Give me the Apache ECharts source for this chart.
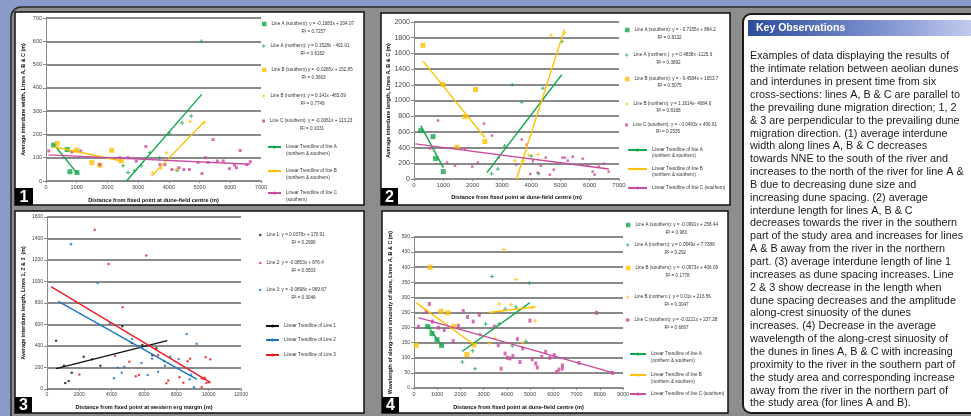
<!DOCTYPE html>
<html>
<head>
<meta charset="utf-8">
<script src="https://cdn.jsdelivr.net/npm/echarts/dist/echarts.min.js"></script>
<style>
  html, body { margin: 0; padding: 0; background: #8b9bc9; }
  #chart { width: 971px; height: 416px; }
</style>
</head>
<body>
<div id="chart"></div>
<script>
// ---- panel 1: interdune width ----
const p1ASouth = [[250, 154], [690, 135], [780, 40], [1010, 36]]
const p1ANorth = [[2510, 65], [2670, 37], [2890, 45], [3100, 66], [3380, 122], [3700, 100], [4010, 205], [4270, 45], [4430, 250], [4730, 279], [5060, 600]]
const p1BSouth = [[360, 161], [990, 132], [1490, 79], [1750, 68], [2140, 132], [2450, 86]]
const p1BNorth = [[3460, 34], [3750, 55], [3920, 121], [4250, 50], [4690, 256], [5150, 251]]
const p1C = [[90, 129], [840, 125], [1130, 129], [1750, 70], [2400, 100], [2670, 100], [2940, 85], [3250, 148], [3710, 70], [3870, 70], [4100, 49], [4330, 57], [4490, 49], [4670, 49], [4950, 80], [5080, 32], [5190, 100], [5280, 80], [5440, 178], [5580, 86], [5770, 86], [5970, 53], [6140, 68], [6200, 57], [6320, 131], [6530, 70], [6650, 83]]
const p1TrendASouth = [[250, 158], [1010, 34]]
const p1TrendANorth = [[2620, 0], [5070, 372]]
const p1TrendBSouth = [[250, 147], [2460, 86]]
const p1TrendBNorth = [[3440, 22], [5170, 257]]
const p1TrendC = [[80, 112], [6650, 72]]
const p1Names = ['Line A (southern): y = -0.1683x + 204.07', 'Line A (northern): y = 0.1528x - 401.01', 'Line B (southern) y = -0.0285x + 152.85', 'Line B (northern): y = 0.141x -465.09', 'Line C (southern): y = -0.0061x + 113.23']
const p1R2 = ['0.7257', '0.6162', '0.3663', '0.7749', '0.1031']
const p1Trends = ['Linear Trendline of line A\n(northern & southern)', 'Linear Trendline of line B\n(northern & southern)', 'Linear Trendline of line C\n(southern)']

// ---- panel 2: interdune length ----
const p2ASouth = [[230, 617], [650, 540], [740, 260], [1000, 94]]
const p2ANorth = [[2650, 68], [2860, 128], [3090, 421], [3350, 1200], [3680, 979], [4000, 294], [4260, 68], [4400, 1157], [5050, 1753]]
const p2BSouth = [[310, 1702], [990, 1204], [1470, 404], [1740, 795], [2100, 1140], [2420, 477]]
const p2BNorth = [[3440, 234], [3750, 234], [3910, 306], [4230, 311], [4680, 1830], [5150, 1860]]
const p2C = [[545, 389], [820, 745], [1125, 209], [1400, 170], [1740, 383], [1990, 157], [2180, 209], [2390, 706], [2660, 553], [2890, 272], [3490, 183], [3680, 502], [3850, 438], [3970, 64], [4060, 226], [4220, 80], [4330, 170], [4500, 272], [4640, 55], [4770, 119], [5070, 272], [5150, 272], [5250, 234], [5420, 285], [5760, 260], [5930, 174], [6100, 94], [6170, 55], [6310, 157], [6480, 196], [6650, 94]]
const p2TrendASouth = [[230, 680], [1000, 145]]
const p2TrendANorth = [[2490, 81], [5045, 1328]]
const p2TrendBSouth = [[307, 1502], [2420, 528]]
const p2TrendBNorth = [[3500, 0], [5140, 1906]]
const p2TrendC = [[45, 447], [6650, 128]]
const p2Names = ['Line A (southern): y = - 0.7155x + 864.2', 'Line A (northern ): y = 0.4838x -1125.6', 'Line B (southern): y = - 0.4584x + 1653.7', 'Line B (northern): y = 1.1614x- 4084.6', 'Line C (southern): y = - 0.0493x + 456.61']
const p2R2 = ['0.8132', '0.3892', '0.5075', '0.8168', '0.2535']
const p2Trends = ['Linear Trendline of line A\n(northern & southern)', 'Linear Trendline of line B\n(northern & southern)', 'Linear Trendline of line C (southern)']

// ---- panel 3: lines 1, 2 & 3 ----
const p3L1 = [[560, 450], [1050, 217], [1130, 56], [1340, 74], [1530, 152], [2270, 301], [2800, 276], [3300, 217], [4660, 583], [5240, 428], [5900, 409], [6520, 313], [6760, 378]]
const p3L2 = [[2000, 136], [2950, 1482], [3810, 1163], [4210, 310], [4680, 760], [5090, 254], [5490, 118], [5690, 130], [6140, 1243], [6870, 313], [7380, 53], [7500, 78], [8190, 109], [8430, 59], [8700, 257], [8850, 282], [9570, 99], [9690, 93], [9770, 105], [9860, 56], [10000, 62], [9570, 19], [9810, 295], [10100, 276]]
const p3L3 = [[1485, 1346], [3130, 986], [3900, 611], [5260, 465], [4370, 198], [4620, 152], [4780, 208], [4140, 99], [5840, 242], [6230, 130], [6500, 282], [6870, 161], [7240, 260], [7630, 301], [7300, 217], [8140, 279], [8640, 512], [8820, 90], [8910, 133], [9090, 16], [9260, 422]]
const p3Trend1 = [[560, 189], [7440, 450]]
const p3TrendBlue = [[700, 816], [9280, 90]]
const p3TrendRed = [[250, 952], [10120, 59]]
const p3Names = ['Line 1: y = 0.0378x + 170.91', 'Line 2: y = -0.0853x + 876.4', 'Line 3: y = -0.0898x + 969.67']
const p3R2 = ['0.2999', '0.3503', '0.3046']
const p3Trends = ['Linear Trendline of Line 1', 'Linear Trendline of Line 2', 'Linear Trendline of Line 3']

// ---- panel 4: along-crest sinuosity wavelength ----
const p4ASouth = [[590, 204], [775, 180], [990, 160], [1190, 141]]
const p4ANorth = [[2080, 86], [2525, 123], [2626, 64], [2840, 178], [3085, 212], [3357, 369], [3673, 213], [3931, 262], [4232, 139], [4390, 268], [4821, 155], [4964, 348]]
const p4BSouth = [[100, 141], [690, 400], [1160, 254], [1460, 249], [1720, 204], [2280, 111], [2580, 143]]
const p4BNorth = [[3240, 147], [3490, 164], [3670, 278], [3870, 459], [4180, 276], [4400, 359], [4680, 151], [5070, 266], [5220, 222]]
const p4C = [[190, 203], [520, 253], [660, 278], [790, 220], [1050, 200], [1300, 192], [1690, 155], [1910, 206], [2120, 255], [2300, 235], [2550, 220], [2810, 242], [3460, 203], [3630, 142], [3750, 64], [3920, 114], [4020, 100], [4130, 98], [4260, 106], [4450, 162], [4560, 86], [4680, 131], [4990, 223], [5090, 95], [5240, 81], [5310, 68], [5500, 103], [5670, 120], [5850, 100], [6040, 109], [6140, 53], [6240, 61], [6390, 75], [6390, 64], [7100, 83], [7860, 249], [8550, 50]]
const p4TrendASouth = [[590, 206], [1190, 140]]
const p4TrendANorth = [[2070, 121], [4980, 282]]
const p4TrendBSouth = [[100, 282], [2580, 144]]
const p4TrendBNorth = [[3230, 250], [5240, 269]]
const p4TrendC = [[190, 233], [8590, 50]]
const p4Names = ['Line A (southern): y = -0.0991x + 258.44', 'Line A (northern): y = 0.0549x + 7.7386', 'Line B (southern): y = -0.0973x + 406.09', 'Line B (northern ): y = 0.01x + 216.56', 'Line C (southern): y = -0.0221x + 237.28']
const p4R2 = ['0.983', '0.292', '0.1778', '0.0047', '0.6667']
const p4Trends = ['Linear Trendline of line A\n(northern & southern)', 'Linear Trendline of line B\n(northern & southern)', 'Linear Trendline of line C (southern)']

// ---- key observations text ----
const notesTitle = 'Key Observations'
const notes = [
  'Examples of data displaying the results of',
  'the intimate relation between aeolian dunes',
  'and interdunes in present time from six',
  'cross-sections: lines A, B & C are parallel to',
  'the prevailing dune migration direction; 1, 2',
  '& 3 are perpendicular to the prevailing dune',
  'migration direction. (1) average interdune',
  'width along lines A, B & C decreases',
  'towards NNE to the south of the river and',
  'increases to the north of the river for line A &',
  'B due to decreasing dune size and',
  'increasing dune spacing. (2) average',
  'interdune length for lines A, B & C',
  'decreases towards the river in the southern',
  'part of the study area and increases for lines',
  'A & B away from the river in the northern',
  'part. (3) average interdune length of line 1',
  'increases as dune spacing increases. Line',
  '2 & 3 show decrease in the length when',
  'dune spacing decreases and the amplitude',
  'along-crest sinuosity of the dunes',
  'increases. (4) Decrease in the average',
  'wavelength of the along-crest sinuosity of',
  'the dunes in lines A, B & C with increasing',
  'proximity to the river in the southern part of',
  'the study area and corresponding increase',
  'away from the river in the northern part of',
  'the study area (for lines A and B).'
]

const FONT = '"Liberation Sans", Arial, sans-serif'
const GREEN = '#12a64b'
const ORANGE = '#ffc000'
const MAGENTA = '#cc4b9d'
const RED = '#ec1c24'
const BLUE = '#1b75c4'
const BLACK = '#111111'
const GRIDLINE = '#8a8a8a'
const PLUS = 'path://M3,0H5V3H8V5H5V8H3V5H0V3H3Z'

const scatter = (name, data, gi, symbol, size, color) => ({
  name, type: 'scatter', data, xAxisIndex: gi, yAxisIndex: gi,
  symbol, symbolSize: size, itemStyle: { color }, z: 3
})

const trend = (name, data, gi, color) => ({
  name, type: 'line', data, xAxisIndex: gi, yAxisIndex: gi,
  symbol: 'none', lineStyle: { color, width: 1.4 }, itemStyle: { color }, z: 4
})

// equation entry: icon sits on the first line, R² line below
const eqLegend = (name, r2, icon, size, left, center, lh, indent) => ({
  data: [{ name, icon }],
  left, top: center - 1.5 * lh, padding: 0,
  itemWidth: size, itemHeight: size, selectedMode: false,
  formatter: () => '{e| }\n{a|' + name + '}\n{b|R² = ' + r2 + '}',
  textStyle: {
    fontFamily: FONT, fontSize: 4.6, color: '#333', lineHeight: lh,
    rich: {
      e: { fontSize: 4.6, lineHeight: lh },
      a: { fontSize: 4.6, lineHeight: lh, color: '#333', fontFamily: FONT },
      b: { fontSize: 4.6, lineHeight: lh, color: '#333', fontFamily: FONT, padding: [0, 0, 0, indent] }
    }
  }
})

const trendLegend = (name, left, center, lh, width) => {
  const lines = name.split('\n')
  const multi = lines.length > 1
  return {
    data: [name],
    left, top: center - (multi ? 1.5 : 0.5) * lh, padding: 0,
    itemWidth: width, itemHeight: 4, selectedMode: false,
    formatter: () => (multi ? '{e| }\n' : '') + lines.map(l => '{a|' + l + '}').join('\n'),
    textStyle: {
      fontFamily: FONT, fontSize: 4.6, color: '#333', lineHeight: lh,
      rich: {
        e: { fontSize: 4.6, lineHeight: lh },
        a: { fontSize: 4.6, lineHeight: lh, color: '#333', fontFamily: FONT }
      }
    }
  }
}

const plain = v => String(v)

const xAxis = (gi, max, step, name, gap, fs) => ({
  gridIndex: gi, type: 'value', min: 0, max, interval: step,
  name, nameLocation: 'middle', nameGap: gap,
  nameTextStyle: { fontFamily: FONT, fontWeight: 'bold', fontSize: 5.6, color: '#111' },
  axisLine: { show: true, onZero: false, lineStyle: { color: GRIDLINE, width: 1.5 } },
  axisTick: { show: true, length: 2, lineStyle: { color: GRIDLINE } },
  axisLabel: { fontFamily: FONT, fontSize: fs, color: '#444', margin: 3, formatter: plain },
  splitLine: { show: false }
})

const yAxis = (gi, max, step, name, gap, fs) => ({
  gridIndex: gi, type: 'value', min: 0, max, interval: step,
  name, nameLocation: 'middle', nameGap: gap,
  nameTextStyle: { fontFamily: FONT, fontWeight: 'bold', fontSize: 5.4, color: '#111' },
  axisLine: { show: true, lineStyle: { color: GRIDLINE, width: 1 } },
  axisTick: { show: true, length: 3, lineStyle: { color: GRIDLINE } },
  axisLabel: { fontFamily: FONT, fontSize: fs, color: '#444', margin: 4, formatter: plain },
  splitLine: { show: true, lineStyle: { color: GRIDLINE, width: 2 } }
})

// frames, panel boxes and the observations box
const panelBox = (x, y, w, h) => ({
  type: 'rect', shape: { x, y, width: w, height: h },
  style: { fill: '#ffffff', stroke: '#111', lineWidth: 1.5 }, z: -5
})
const numberTag = (label, x, y, w, h) => ({
  type: 'group', z: 10, children: [
    { type: 'rect', shape: { x, y, width: w, height: h }, style: { fill: '#000' } },
    { type: 'text', x: x + w / 2, y: y + h / 2 + 1, style: { text: label, fill: '#fff', font: 'bold 16px ' + FONT, align: 'center', verticalAlign: 'middle' } }
  ]
})

const graphic = [
  { type: 'rect', shape: { x: 0, y: 0, width: 971, height: 416 }, style: { fill: '#8b9bc9' }, z: -20 },
  { type: 'rect', shape: { x: 11, y: 7, width: 975, height: 430, r: 10 }, style: { fill: '#8d8d8d', stroke: '#2a2a2a', lineWidth: 1.5 }, z: -10 },
  panelBox(15, 12, 349, 193),
  panelBox(381, 13, 349, 192),
  panelBox(15, 211, 349, 202),
  panelBox(382, 211, 346, 202),
  numberTag('1', 15, 188, 18, 17),
  numberTag('2', 381, 188, 17, 17),
  numberTag('3', 15, 397, 17, 16),
  numberTag('4', 382, 397, 17, 16),
  { type: 'rect', shape: { x: 743, y: 14, width: 240, height: 399, r: 8 }, style: { fill: '#ffffff', stroke: '#1a1a1a', lineWidth: 2 }, z: -5 },
  {
    type: 'rect', shape: { x: 748, y: 20, width: 225, height: 16 }, z: -4,
    style: { fill: new echarts.graphic.LinearGradient(0, 0, 1, 0, [{ offset: 0, color: '#2c4d9d' }, { offset: 0.6, color: '#7f93d0' }, { offset: 1, color: '#c3cbee' }]) }
  },
  { type: 'text', x: 756, y: 28.5, z: 5, style: { text: notesTitle, fill: '#fff', font: 'bold 10.5px ' + FONT, verticalAlign: 'middle' } },
  { type: 'text', x: 750, y: 50, z: 5, style: { text: notes.join('\n'), fill: '#1a1a1a', font: '10.8px ' + FONT, lineHeight: 12.85 } }
]

const chart = echarts.init(document.getElementById('chart'), null, { renderer: 'canvas' })
chart.setOption({
  animation: false,
  graphic,
  grid: [
    { left: 46, top: 18, width: 215, height: 163 },
    { left: 414, top: 22, width: 205, height: 157 },
    { left: 47, top: 217, width: 194, height: 172 },
    { left: 414, top: 237, width: 209, height: 151 }
  ],
  xAxis: [
    xAxis(0, 7000, 1000, 'Distance from fixed point at dune-field centre (m)', 16, 5.5),
    xAxis(1, 7000, 1000, 'Distance from fixed point at dune-field centre (m)', 15, 6),
    xAxis(2, 12000, 2000, 'Distance from fixed point at western erg margin (m)', 15, 5),
    xAxis(3, 9000, 1000, 'Distance from fixed point at dune-field centre (m)', 16, 5.5)
  ],
  yAxis: [
    yAxis(0, 700, 100, 'Average interdune width, Lines A, B & C (m)', 20, 5.5),
    yAxis(1, 2000, 200, 'Average interdune length, Lines A, B & C (m)', 23, 7),
    yAxis(2, 1600, 200, 'Average interdune length, Lines 1, 2 & 3  (m)', 21, 5),
    yAxis(3, 500, 50, 'Wavelength of along-crest sinuosity of dune, Lines A, B & C (m)', 21, 5)
  ],
  legend: [
    eqLegend(p1Names[0], p1R2[0], 'rect', 4.5, 262, 24, 8, 30),
    eqLegend(p1Names[1], p1R2[1], PLUS, 3.5, 262, 46, 8, 30),
    eqLegend(p1Names[2], p1R2[2], 'rect', 4.5, 262, 70, 8, 30),
    eqLegend(p1Names[3], p1R2[3], PLUS, 3.5, 262, 96, 8, 30),
    eqLegend(p1Names[4], p1R2[4], 'rect', 3, 262, 121, 8, 30),
    trendLegend(p1Trends[0], 267, 147, 6.7, 13),
    trendLegend(p1Trends[1], 267, 171, 6.7, 13),
    trendLegend(p1Trends[2], 267, 193, 6.7, 13),

    eqLegend(p2Names[0], p2R2[0], 'rect', 4.5, 625, 30, 8, 23),
    eqLegend(p2Names[1], p2R2[1], PLUS, 3.5, 625, 55, 8, 23),
    eqLegend(p2Names[2], p2R2[2], 'rect', 4.5, 625, 79, 7, 23),
    eqLegend(p2Names[3], p2R2[3], PLUS, 3.5, 625, 104, 7, 23),
    eqLegend(p2Names[4], p2R2[4], 'rect', 3, 625, 125, 7, 23),
    trendLegend(p2Trends[0], 627, 150, 6.2, 19),
    trendLegend(p2Trends[1], 627, 169, 6.2, 19),
    trendLegend(p2Trends[2], 627, 188, 6.2, 19),

    eqLegend(p3Names[0], p3R2[0], 'circle', 2.5, 259, 235, 8, 25),
    eqLegend(p3Names[1], p3R2[1], 'circle', 2.5, 259, 263, 8, 25),
    eqLegend(p3Names[2], p3R2[2], 'circle', 2.5, 259, 290, 8, 25),
    trendLegend(p3Trends[0], 265, 326, 6.5, 13),
    trendLegend(p3Trends[1], 265, 340, 6.5, 13),
    trendLegend(p3Trends[2], 265, 355, 6.5, 13),

    eqLegend(p4Names[0], p4R2[0], 'rect', 4.5, 626, 225, 7.5, 30),
    eqLegend(p4Names[1], p4R2[1], PLUS, 3.5, 626, 245, 7.5, 30),
    eqLegend(p4Names[2], p4R2[2], 'rect', 4.5, 626, 268, 7.5, 30),
    eqLegend(p4Names[3], p4R2[3], PLUS, 3.5, 626, 297, 7.5, 30),
    eqLegend(p4Names[4], p4R2[4], 'rect', 3.5, 626, 320, 7.5, 30),
    trendLegend(p4Trends[0], 629, 354, 6.7, 16),
    trendLegend(p4Trends[1], 629, 375, 6.7, 16),
    trendLegend(p4Trends[2], 629, 394, 6.7, 16)
  ],
  series: [
    scatter(p1Names[0], p1ASouth, 0, 'rect', 5, GREEN),
    scatter(p1Names[1], p1ANorth, 0, PLUS, 4, GREEN),
    scatter(p1Names[2], p1BSouth, 0, 'rect', 5, ORANGE),
    scatter(p1Names[3], p1BNorth, 0, PLUS, 4, ORANGE),
    scatter(p1Names[4], p1C, 0, 'rect', 3, MAGENTA),
    trend(p1Trends[0], p1TrendASouth, 0, GREEN),
    trend(p1Trends[0], p1TrendANorth, 0, GREEN),
    trend(p1Trends[1], p1TrendBSouth, 0, ORANGE),
    trend(p1Trends[1], p1TrendBNorth, 0, ORANGE),
    trend(p1Trends[2], p1TrendC, 0, MAGENTA),

    scatter(p2Names[0], p2ASouth, 1, 'rect', 5, GREEN),
    scatter(p2Names[1], p2ANorth, 1, PLUS, 4, GREEN),
    scatter(p2Names[2], p2BSouth, 1, 'rect', 5, ORANGE),
    scatter(p2Names[3], p2BNorth, 1, PLUS, 4, ORANGE),
    scatter(p2Names[4], p2C, 1, 'rect', 2.5, MAGENTA),
    trend(p2Trends[0], p2TrendASouth, 1, GREEN),
    trend(p2Trends[0], p2TrendANorth, 1, GREEN),
    trend(p2Trends[1], p2TrendBSouth, 1, ORANGE),
    trend(p2Trends[1], p2TrendBNorth, 1, ORANGE),
    trend(p2Trends[2], p2TrendC, 1, MAGENTA),

    scatter(p3Names[0], p3L1, 2, 'circle', 2.5, BLACK),
    scatter(p3Names[1], p3L2, 2, 'circle', 2.5, RED),
    scatter(p3Names[2], p3L3, 2, 'circle', 2.5, BLUE),
    trend(p3Trends[0], p3Trend1, 2, BLACK),
    trend(p3Trends[1], p3TrendBlue, 2, BLUE),
    trend(p3Trends[2], p3TrendRed, 2, RED),

    scatter(p4Names[0], p4ASouth, 3, 'rect', 5, GREEN),
    scatter(p4Names[1], p4ANorth, 3, PLUS, 4, GREEN),
    scatter(p4Names[2], p4BSouth, 3, 'rect', 5, ORANGE),
    scatter(p4Names[3], p4BNorth, 3, PLUS, 4, ORANGE),
    scatter(p4Names[4], p4C, 3, 'rect', [3, 4], MAGENTA),
    trend(p4Trends[0], p4TrendASouth, 3, GREEN),
    trend(p4Trends[0], p4TrendANorth, 3, GREEN),
    trend(p4Trends[1], p4TrendBSouth, 3, ORANGE),
    trend(p4Trends[1], p4TrendBNorth, 3, ORANGE),
    trend(p4Trends[2], p4TrendC, 3, MAGENTA)
  ]
})
</script>
</body>
</html>
